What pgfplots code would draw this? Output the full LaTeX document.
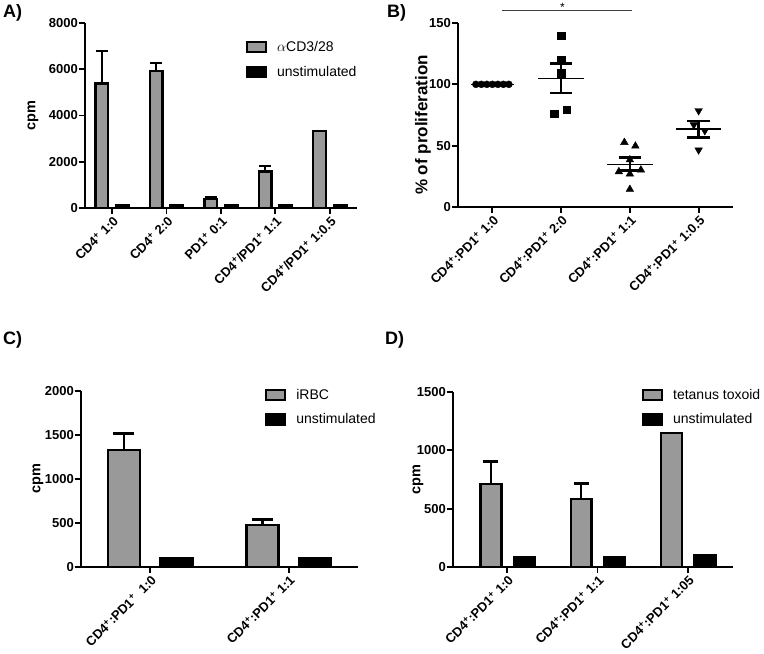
\documentclass[border=0pt]{standalone}
\usepackage{fontspec}
\setmainfont{Liberation Sans}
\usepackage{pgfplots}
\pgfplotsset{compat=1.18}
\definecolor{barGrey}{RGB}{153,153,153}
\pgfplotsset{
  panel/.style={
    scale only axis, axis x line=bottom, axis y line=left,
    axis line style={-, line width=1.8pt},
    tick style={line width=1.8pt, black},
    major tick length=6pt,
    tick align=outside,
    ymin=0, clip=false,
    /pgf/number format/assume math mode=true,
    /pgf/number format/set thousands separator={},
    ticklabel style={font=\bfseries\fontsize{13}{13}\selectfont},
    xticklabel style={rotate=45, anchor=north east, inner sep=1pt},
    yticklabel style={inner sep=1pt},
    label style={font=\bfseries\fontsize{14.5}{14.5}\selectfont},
    legend style={draw=none, fill=none, font=\fontsize{14}{16}\selectfont, row sep=9pt, inner sep=0pt, column sep=8pt},
    legend cell align=left,
    legend image code/.code={\draw[##1] (0pt,-5pt) rectangle (19pt,5pt);},
  },
  gbar/.style={ybar, fill=barGrey, draw=black, line width=2.4pt, bar width=0.23, forget plot},
  kbar/.style={ybar, fill=black, draw=black, line width=2.4pt, bar width=0.23, forget plot},
  ebar/.style={draw=none, mark=none, forget plot, error bars/y dir=plus, error bars/y explicit,
    error bars/error bar style={line width=2.4pt, draw=black, solid}},
}
\begin{document}
\begin{tikzpicture}
\path[use as bounding box] (0,0) rectangle (764pt,654pt);
% ---------------- A
\begin{axis}[panel, at={(85pt,446pt)}, width=272pt, height=185pt,
  xmin=-0.5, xmax=4.5, ymax=8000, ytick={0,2000,4000,6000,8000},
  xtick={0,1,2,3,4},
  xticklabels={{CD4\textsuperscript{+} 1:0},{CD4\textsuperscript{+} 2:0},{PD1\textsuperscript{+} 0:1},{CD4\textsuperscript{+}/PD1\textsuperscript{+} 1:1},{CD4\textsuperscript{+}/PD1\textsuperscript{+} 1:0.5}},
  ylabel={cpm}, ylabel style={at={(axis description cs:-0.191,0.5)}, anchor=center},
  legend style={at={(axis description cs:0.591,0.912)}, anchor=north west},
  error bars/error mark options={rotate=90, mark size=6pt, line width=2.4pt, black}]
\addplot[ebar] coordinates {(-0.19,5390) +- (0,1400) (0.81,5920) +- (0,360) (1.81,400) +- (0,60) (2.81,1570) +- (0,240)};
\addplot[gbar, bar shift=-0.19] coordinates {(0,5390) (1,5920) (2,400) (3,1570) (4,3340)};
\addplot[kbar, bar shift=0.19] coordinates {(0,120) (1,120) (2,100) (3,110) (4,120)};
\addlegendimage{fill=barGrey, draw=black, line width=2.2pt}
\addlegendentry{$\alpha$CD3/28}
\addlegendimage{fill=black, draw=black, line width=2.2pt}
\addlegendentry{unstimulated}
\end{axis}
% ---------------- B
\begin{axis}[panel, at={(458pt,447pt)}, width=275pt, height=184pt,
  xmin=-0.5, xmax=3.5, ymax=150, ytick={0,50,100,150},
  xtick={0,1,2,3},
  xticklabels={{CD4\textsuperscript{+}:PD1\textsuperscript{+} 1:0},{CD4\textsuperscript{+}:PD1\textsuperscript{+} 2:0},{CD4\textsuperscript{+}:PD1\textsuperscript{+} 1:1},{CD4\textsuperscript{+}:PD1\textsuperscript{+} 1:0.5}},
  ylabel={\% of proliferation}, ylabel style={font=\bfseries\fontsize{17}{17}\selectfont, at={(axis description cs:-0.127,0.446)}, anchor=center}]
\addplot[black, line width=1.5pt] coordinates {(-0.31,100) (0.32,100)};
\addplot[black, line width=1.5pt] coordinates {(0.67,104.9) (1.33,104.9)};
\addplot[black, line width=1.5pt] coordinates {(1.67,34.7) (2.33,34.7)};
\addplot[black, line width=1.5pt] coordinates {(2.67,63.4) (3.33,63.4)};
\addplot[only marks, mark=*, mark size=3.5pt, black] coordinates {(-0.24,100) (-0.16,100) (-0.08,100) (0,100) (0.08,100) (0.16,100) (0.24,100)};
\addplot[only marks, mark=square*, mark size=3.6pt, black] coordinates {(1,139.7) (1,119.8) (1,109) (1.08,79.6) (0.9,75.8)};
\addplot[only marks, mark=triangle*, mark size=4.4pt, black] coordinates {(1.92,52.7) (2.08,49.7) (2,38.5) (2.16,30.2) (1.84,28.8) (2,26.9) (2,14.4)};
\addplot[only marks, mark=triangle*, mark size=4.4pt, black, mark options={rotate=180}] coordinates {(3,78.5) (2.93,67) (3.09,62.2) (3,46.5)};
\addplot[draw=none, mark=none, error bars/y dir=both, error bars/y explicit,
  error bars/error bar style={line width=2.6pt, draw=black},
  error bars/error mark options={rotate=90, mark size=11.3pt, line width=2.6pt, draw=black}]
  coordinates {(1,104.9) +- (0,12) (2,35) +- (0,5.4) (3,63.45) +- (0,6.65)};
\draw[line width=0.8pt, black!75] (axis cs:0.146,160) -- (axis cs:2.03,160);
\node[anchor=south, inner sep=0pt, font=\fontsize{12}{12}\selectfont] at (axis cs:1.02,159) {*};
\end{axis}
% ---------------- C
\begin{axis}[panel, at={(81pt,87pt)}, width=277pt, height=176pt,
  xmin=-0.5, xmax=1.5, ymax=2000, ytick={0,500,1000,1500,2000},
  xtick={0,1},
  xticklabels={{CD4\textsuperscript{+}:PD1\textsuperscript{+}\ \ 1:0},{CD4\textsuperscript{+}:PD1\textsuperscript{+} 1:1}},
  ylabel={cpm}, ylabel style={at={(axis description cs:-0.155,0.5)}, anchor=center},
  legend style={at={(axis description cs:0.664,1.024)}, anchor=north west},
  error bars/error mark options={rotate=90, mark size=10.5pt, line width=2.4pt, black}]
\addplot[ebar] coordinates {(-0.19,1329) +- (0,190) (0.81,477) +- (0,65)};
\addplot[gbar, bar shift=-0.19] coordinates {(0,1329) (1,477)};
\addplot[kbar, bar shift=0.19] coordinates {(0,105) (1,105)};
\addlegendimage{fill=barGrey, draw=black, line width=2.2pt}
\addlegendentry{iRBC}
\addlegendimage{fill=black, draw=black, line width=2.2pt}
\addlegendentry{unstimulated}
\end{axis}
% ---------------- D
\begin{axis}[panel, at={(453pt,87pt)}, width=280pt, height=175pt,
  xmin=-0.6, xmax=2.5, ymax=1500, ytick={0,500,1000,1500},
  xtick={0,1,2},
  xticklabels={{CD4\textsuperscript{+}:PD1\textsuperscript{+} 1:0},{CD4\textsuperscript{+}:PD1\textsuperscript{+} 1:1},{CD4\textsuperscript{+}:PD1\textsuperscript{+} 1:05}},
  ylabel={cpm}, ylabel style={at={(axis description cs:-0.125,0.5)}, anchor=center},
  legend style={at={(axis description cs:0.674,1.03)}, anchor=north west},
  error bars/error mark options={rotate=90, mark size=7.5pt, line width=2.4pt, black}]
\addplot[ebar] coordinates {(-0.18,709) +- (0,194) (0.82,583) +- (0,134)};
\addplot[gbar, bar shift=-0.18] coordinates {(0,709) (1,583) (2,1151)};
\addplot[kbar, bar shift=0.19] coordinates {(0,80) (1,87) (2,97)};
\addlegendimage{fill=barGrey, draw=black, line width=2.2pt}
\addlegendentry{tetanus toxoid}
\addlegendimage{fill=black, draw=black, line width=2.2pt}
\addlegendentry{unstimulated}
\end{axis}
% panel letters
\node[anchor=north west, inner sep=0pt, font=\bfseries\fontsize{18}{18}\selectfont] at (3pt,650pt) {A)};
\node[anchor=north west, inner sep=0pt, font=\bfseries\fontsize{18}{18}\selectfont] at (387pt,650pt) {B)};
\node[anchor=north west, inner sep=0pt, font=\bfseries\fontsize{18}{18}\selectfont] at (3pt,323pt) {C)};
\node[anchor=north west, inner sep=0pt, font=\bfseries\fontsize{18}{18}\selectfont] at (385pt,323pt) {D)};
\end{tikzpicture}
\end{document}
